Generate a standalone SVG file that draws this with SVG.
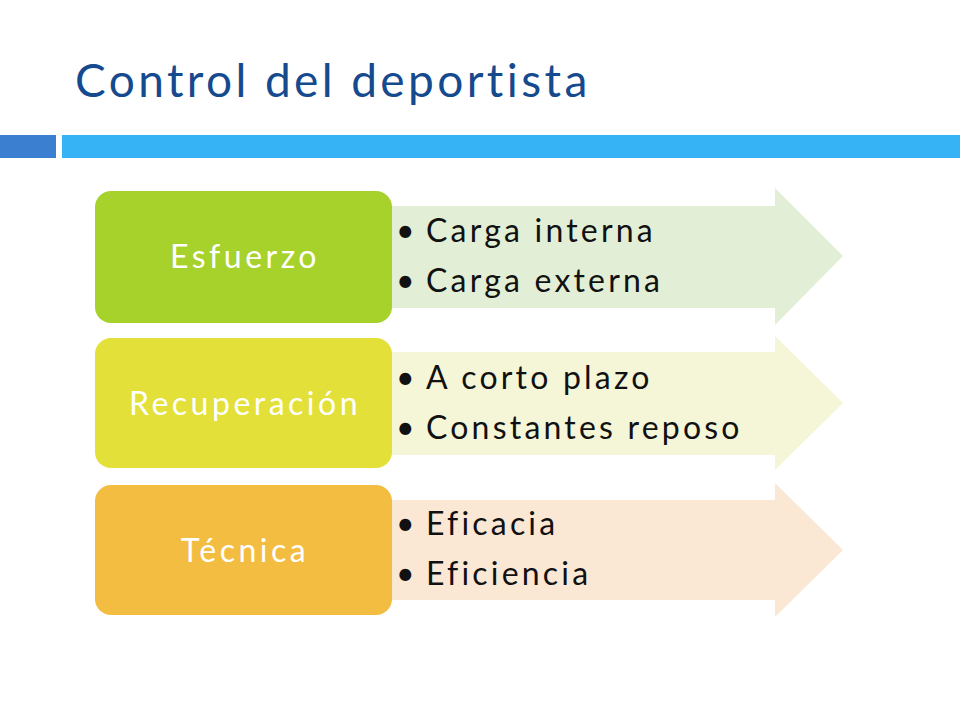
<svg xmlns="http://www.w3.org/2000/svg" width="960" height="720" viewBox="0 0 960 720">
<style>
.lbl{font-family:Lato,"Liberation Sans",sans-serif;font-size:32px;fill:#fff;text-anchor:middle;letter-spacing:3.5px}
.bul{font-family:Lato,"Liberation Sans",sans-serif;font-size:32px;fill:#111;letter-spacing:3.2px}
</style>
<rect width="960" height="720" fill="#fff"/>
<text x="75" y="97" font-family="Lato,'Liberation Sans',sans-serif" font-size="46" fill="#154a8f" letter-spacing="3.4">Control del deportista</text>
<rect x="0" y="135" width="56" height="23" fill="#3a7fd0"/>
<rect x="62" y="135" width="898" height="23" fill="#36b3f5"/>
<g id="connectors"></g>
<g id="row1">
<path d="M380 206H775V188L843 256L775 325V308H380Z" fill="#e2efd6"/>
<rect x="95" y="191" width="297" height="132" rx="16" fill="#a6d22b"/>
<text class="lbl" x="245" y="268">Esfuerzo</text>
<text class="bul" x="396" y="242">•</text><text class="bul" x="426" y="242">Carga interna</text>
<text class="bul" x="396" y="292">•</text><text class="bul" x="426" y="292">Carga externa</text>
</g>
<g id="row2">
<path d="M380 352H775V336L843 403L775 470V455H380Z" fill="#f5f5d8"/>
<rect x="95" y="338" width="297" height="130" rx="16" fill="#e3e03a"/>
<text class="lbl" x="245" y="415">Recuperación</text>
<text class="bul" x="396" y="389">•</text><text class="bul" x="426" y="389">A corto plazo</text>
<text class="bul" x="396" y="439">•</text><text class="bul" x="426" y="439">Constantes reposo</text>
</g>
<g id="row3">
<path d="M380 500H775V483L843 550L775 617V600H380Z" fill="#fae8d5"/>
<rect x="95" y="485" width="297" height="130" rx="16" fill="#f2bd40"/>
<text class="lbl" x="245" y="562">Técnica</text>
<text class="bul" x="396" y="535">•</text><text class="bul" x="426" y="535">Eficacia</text>
<text class="bul" x="396" y="585">•</text><text class="bul" x="426" y="585">Eficiencia</text>
</g>
</svg>
